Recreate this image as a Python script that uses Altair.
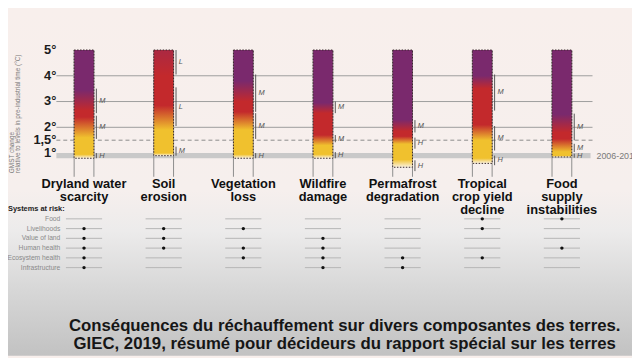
import altair as alt
import pandas as pd

# ---------------- data ----------------
categories = ["Dryland water\nscarcity", "Soil\nerosion", "Vegetation\nloss", "Wildfire\ndamage",
              "Permafrost\ndegradation", "Tropical\ncrop yield\ndecline", "Food\nsupply\ninstabilities"]
col_idx = [0, 1, 2, 3, 4, 5, 6]
bar_top = [5, 5, 5, 5, 5, 5, 5]
bar_bottom = [0.8, 0.9, 0.8, 0.8, 0.45, 0.6, 0.85]
# transition temperatures of the embers (°C)
onset_end = [0.95, 1.0, 0.95, 0.95, 0.75, 0.8, 0.9]
high_start = [1.6, 1.9, 1.9, 1.3, 1.35, 1.5, 1.05]
high_end = [2.4, 2.85, 2.6, 1.7, 1.65, 2.1, 1.55]
vhigh_start = [2.65, 4.0, 3.0, 2.55, 1.85, 3.5, 1.8]
vhigh_end = [3.45, 7.0, 3.8, 2.95, 2.3, 4.0, 2.5]

tick_values = [5, 4, 3, 2, 1.5, 1]
tick_labels = ["5°", "4°", "3°", "2°", "1,5°", "1°"]
grid_levels = [4, 3, 2]
dashed_levels = [1.5]
band_low = [0.8]
band_high = [1.0]
band_label = ["2006-2015"]
band_label_t = [0.9]

# confidence brackets
br_idx = [0, 0, 0, 1, 1, 1, 2, 2, 2, 3, 3, 3, 4, 4, 4, 5, 5, 5, 6, 6, 6]
br_hi = [3.5, 2.45, 1.0, 5.0, 3.55, 1.25, 4.05, 2.55, 1.0, 3.0, 1.7, 1.04,
         2.28, 1.6, 0.72, 4.05, 2.05, 0.9, 2.53, 1.36, 0.98]
br_lo = [2.55, 1.55, 0.8, 4.05, 2.05, 0.9, 2.6, 1.55, 0.8, 2.55, 1.42, 0.8,
         1.8, 1.17, 0.3, 2.65, 1.1, 0.53, 1.5, 1.04, 0.82]
br_lab = ["M", "M", "H", "L", "L", "M", "M", "M", "H", "M", "M", "H",
          "M", "H", "H", "M", "M", "H", "M", "M", "H"]

systems = ["Food", "Livelihoods", "Value of land", "Human health", "Ecosystem health", "Infrastructure"]
dot_idx = [0, 0, 0, 0, 0, 1, 1, 1, 2, 2, 2, 3, 3, 3, 3, 4, 4, 5, 5, 5, 6, 6]
dot_sys = ["Livelihoods", "Value of land", "Human health", "Ecosystem health", "Infrastructure",
           "Livelihoods", "Value of land", "Human health",
           "Livelihoods", "Human health", "Ecosystem health",
           "Value of land", "Human health", "Ecosystem health", "Infrastructure",
           "Ecosystem health", "Infrastructure",
           "Food", "Livelihoods", "Ecosystem health",
           "Food", "Human health"]

axis_title_lines = ["GMST change", "relative to levels in pre-industrial time (°C)"]
systems_title = ["Systems at risk:"]
caption_lines = ["Conséquences du réchauffement sur divers composantes des terres.",
                 "GIEC, 2019, résumé pour décideurs du rapport spécial sur les terres"]

# ---------------- style ----------------
C_WHITE = "#fbf3e3"
C_YELLOW = "#f0c12e"
C_RED = "#c3292c"
C_PURPLE = "#7a296d"
W, H = 632, 350
XS = alt.Scale(domain=[0, 6], range=[77, 561], nice=False, zero=False)
YT = alt.Scale(domain=[0, 5], range=[170.8, 40.3], nice=False, zero=False)
YR = alt.Scale(type="point", domain=systems, range=[211.3, 260.7], padding=0)
BAR_HALF = 0.124


def hex2rgb(h):
    return tuple(int(h[i:i + 2], 16) for i in (1, 3, 5))


def mix(c1, c2, f):
    a, b = hex2rgb(c1), hex2rgb(c2)
    return "#%02x%02x%02x" % tuple(round(a[k] + (b[k] - a[k]) * f) for k in range(3))


def ember_gradient(i):
    b, top = bar_bottom[i], bar_top[i]
    pts = [(b, C_WHITE), (onset_end[i], C_YELLOW), (high_start[i], C_YELLOW),
           (high_end[i], C_RED), (vhigh_start[i], C_RED), (vhigh_end[i], C_PURPLE)]
    stops = []
    done = False
    for k, (t, c) in enumerate(pts):
        if t > top:
            t0, c0 = pts[k - 1]
            stops.append((top, mix(c0, c, (top - t0) / (t - t0))))
            done = True
            break
        stops.append((t, c))
    if not done:
        stops.append((top, pts[-1][1]))
    return alt.LinearGradient(
        gradient="linear", x1=0, x2=0, y1=1, y2=0,
        stops=[alt.GradientStop(offset=(t - b) / (top - b), color=c) for t, c in stops])


layers = []

# background
layers.append(alt.Chart(pd.DataFrame({"k": [0]})).mark_rect(
    fill=alt.LinearGradient(gradient="linear", x1=0, x2=0, y1=0, y2=1, stops=[
        alt.GradientStop(offset=0, color="#f8efec"),
        alt.GradientStop(offset=0.52, color="#f6efed"),
        alt.GradientStop(offset=0.64, color="#ecebeb"),
        alt.GradientStop(offset=0.8, color="#d8d8d8"),
        alt.GradientStop(offset=1, color="#c2c2c2")])
).encode(x=alt.value(0), x2=alt.value(W), y=alt.value(0), y2=alt.value(H)))

# grey band 2006-2015
layers.append(alt.Chart(pd.DataFrame({"lo": band_low, "hi": band_high})).mark_rect(color="#c9c9c9").encode(
    x=alt.value(49), x2=alt.value(590),
    y=alt.Y("lo:Q", scale=YT, axis=None), y2="hi:Q"))
layers.append(alt.Chart(pd.DataFrame({"t": band_label_t, "lab": band_label})).mark_text(
    align="left", baseline="middle", fontSize=9, color="#7a7a7a").encode(
    x=alt.value(596), y=alt.Y("t:Q", scale=YT, axis=None), text="lab:N"))

# grid
layers.append(alt.Chart(pd.DataFrame({"t": grid_levels})).mark_rule(color="#9c9c9c", strokeWidth=1).encode(
    x=alt.value(49), x2=alt.value(592), y=alt.Y("t:Q", scale=YT, axis=None)))
layers.append(alt.Chart(pd.DataFrame({"t": dashed_levels})).mark_rule(
    color="#8a8a8a", strokeWidth=1, strokeDash=[4, 3]).encode(
    x=alt.value(49), x2=alt.value(595), y=alt.Y("t:Q", scale=YT, axis=None)))

cols = pd.DataFrame({"idx": col_idx, "label": categories, "bottom": bar_bottom, "top": bar_top})

# edge lines of each column
for sign in (-1, 1):
    layers.append(alt.Chart(cols).transform_calculate(
        xe=f"datum.idx + ({sign}) * {BAR_HALF}", lo="0.08").mark_rule(color="#8c8c8c", strokeWidth=1).encode(
        x=alt.X("xe:Q", scale=XS, axis=None), y=alt.Y("lo:Q", scale=YT, axis=None), y2="top:Q"))

# embers
for i in col_idx:
    layers.append(alt.Chart(cols[cols.idx == i]).transform_calculate(
        xa=f"datum.idx - {BAR_HALF}", xb=f"datum.idx + {BAR_HALF}").mark_rect(
        fill=ember_gradient(i), stroke="#3a2a2c", strokeWidth=1, strokeDash=[1.5, 1.5]).encode(
        x=alt.X("xa:Q", scale=XS, axis=None), x2="xb:Q",
        y=alt.Y("bottom:Q", scale=YT, axis=None), y2="top:Q"))

# confidence brackets
brk = pd.DataFrame({"idx": br_idx, "hi": br_hi, "lo": br_lo, "lab": br_lab})
layers.append(alt.Chart(brk).transform_calculate(bx="datum.idx + 0.155").mark_rule(
    color="#555555", strokeWidth=1).encode(
    x=alt.X("bx:Q", scale=XS, axis=None), y=alt.Y("lo:Q", scale=YT, axis=None), y2="hi:Q"))
layers.append(alt.Chart(brk).transform_calculate(
    lx="datum.idx + 0.19", mid="(datum.lo + datum.hi) / 2").mark_text(
    align="left", baseline="middle", fontSize=7.5, fontStyle="italic", color="#555555").encode(
    x=alt.X("lx:Q", scale=XS, axis=None), y=alt.Y("mid:Q", scale=YT, axis=None), text="lab:N"))

# y tick labels
layers.append(alt.Chart(pd.DataFrame({"t": tick_values, "lab": tick_labels})).mark_text(
    align="right", baseline="middle", fontSize=13, fontWeight="bold", color="#1c1c1c").encode(
    x=alt.value(49), y=alt.Y("t:Q", scale=YT, axis=None), text="lab:N"))

# rotated axis title
for k, xpos in enumerate([4, 10]):
    layers.append(alt.Chart(pd.DataFrame({"s": [axis_title_lines[k]]})).mark_text(
        align="left", baseline="middle", angle=270, fontSize=6.5, color="#777777").encode(
        x=alt.value(xpos), y=alt.value(165), text="s:N"))

# category labels
layers.append(alt.Chart(cols).mark_text(
    align="center", baseline="top", fontSize=13, fontWeight="bold", lineHeight=13,
    lineBreak="\n", color="#111111").encode(
    x=alt.X("idx:Q", scale=XS, axis=None), y=alt.value(170), text="label:N"))

# systems at risk
layers.append(alt.Chart(pd.DataFrame({"s": systems_title})).mark_text(
    align="left", baseline="middle", fontSize=7.5, fontWeight="bold", color="#222222").encode(
    x=alt.value(0), y=alt.value(201.5), text="s:N"))
layers.append(alt.Chart(pd.DataFrame({"sys": systems})).mark_text(
    align="right", baseline="middle", fontSize=6.8, color="#8a8a8a").encode(
    x=alt.value(53), y=alt.Y("sys:N", scale=YR, axis=None), text="sys:N"))
grid_rows = pd.DataFrame([(i, s) for i in col_idx for s in systems], columns=["idx", "sys"])
layers.append(alt.Chart(grid_rows).transform_calculate(
    r1="datum.idx - 0.227", r2="datum.idx + 0.227").mark_rule(color="#b6b6b6", strokeWidth=1).encode(
    x=alt.X("r1:Q", scale=XS, axis=None), x2="r2:Q", y=alt.Y("sys:N", scale=YR, axis=None)))
layers.append(alt.Chart(pd.DataFrame({"idx": dot_idx, "sys": dot_sys})).mark_circle(
    size=12, color="#111111", opacity=1).encode(
    x=alt.X("idx:Q", scale=XS, axis=None), y=alt.Y("sys:N", scale=YR, axis=None)))

# caption
for k, ypos in enumerate([320, 338]):
    layers.append(alt.Chart(pd.DataFrame({"s": [caption_lines[k]]})).mark_text(
        align="center", baseline="middle", fontSize=17, fontWeight="bold", color="#161616").encode(
        x=alt.value(341), y=alt.value(ypos), text="s:N"))

chart = alt.layer(*layers).resolve_scale(y="independent").properties(
    width=W, height=H, autosize=alt.AutoSizeParams(type="none"), padding=0
).configure(font="Liberation Sans", background="#f8efec").configure_view(strokeWidth=0)

chart.save("out.html", embed_options={"renderer": "svg", "actions": False})
